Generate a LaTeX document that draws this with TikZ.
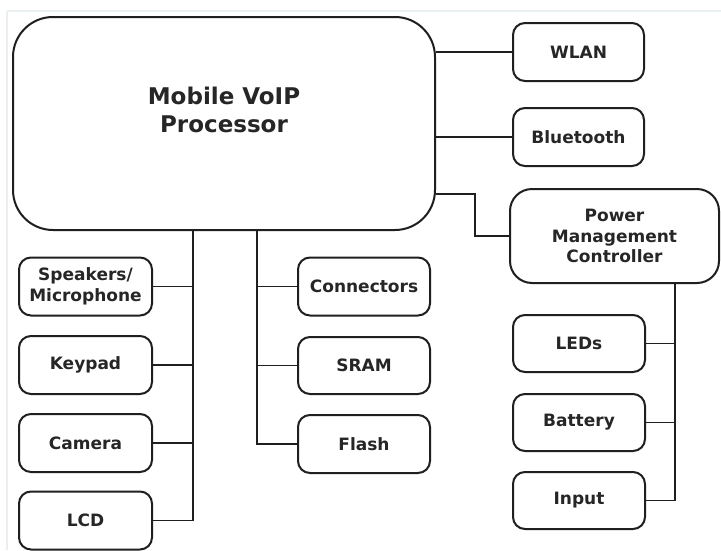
\documentclass[tikz,border=0pt]{standalone}
\usepackage{fontspec}
\setmainfont{DejaVu Sans}
\begin{document}
\begin{tikzpicture}[x=1pt,y=-1pt,
  box/.style={draw=black!88, line width=2pt, rounded corners=12pt, fill=white,
    text=black!85, align=center, inner sep=0pt,
    font=\fontsize{17}{20.5}\selectfont\bfseries},
  lbox/.style={box, minimum width=133pt, minimum height=58pt},
  rbox/.style={box, minimum width=132pt, minimum height=57pt},
  conn/.style={draw=black!88, line width=1.9pt},
  faint/.style={draw=cyan!25!gray!15, line width=1.5pt}]
\useasboundingbox (0,0) rectangle (721,550);
\fill[white] (0,0) rectangle (721,550);
\draw[faint] (7,11) -- (721,11);
\draw[faint] (7,11) -- (7,550);

% processor
\node[box, rounded corners=40pt, minimum width=422pt, minimum height=213pt] (proc) at (224,123.5) {};
\node[text=black!85, align=center, font=\fontsize{23}{28}\selectfont\bfseries] (proctxt) at (224,110) {Mobile VoIP\\Processor};

% right column
\node[rbox, minimum width=131pt, minimum height=58pt] (wlan) at (578.5,52) {WLAN};
\node[rbox, minimum width=131pt, minimum height=58pt] (bt) at (578.5,137) {Bluetooth};
\node[box, rounded corners=22pt, minimum width=209pt, minimum height=94pt] (pmc) at (614.5,236) {Power\\Management\\Controller};

\node[rbox] (leds) at (579,343.5) {LEDs};
\node[rbox] (bat) at (579,422.5) {Battery};
\node[rbox] (inp) at (579,500.5) {Input};

% left column
\node[lbox] (spk) at (85.5,286.5) {Speakers/\\Microphone};
\node[lbox] (key) at (85.5,365) {Keypad};
\node[lbox] (cam) at (85.5,443) {Camera};
\node[lbox] (lcd) at (85.5,520.5) {LCD};

% middle column
\node[rbox, minimum height=58pt] (conns) at (364,286.5) {Connectors};
\node[rbox] (sram) at (364,365.5) {SRAM};
\node[rbox, minimum height=58pt] (flash) at (364,444) {Flash};

% bus coordinates
\coordinate (lbus) at (193,0);
\coordinate (mbus) at (257,0);
\coordinate (pbus) at (675,0);
\coordinate (pjoin) at (475,194);

% connectors
\draw[conn] (proc.east |- wlan.west) -- (wlan.west);
\draw[conn] (proc.east |- bt.west) -- (bt.west);
\draw[conn] (proc.east |- pjoin) -- (pjoin) |- (pmc.west);

\draw[conn] (proc.south -| lbus) -- (lcd.east -| lbus) -- (lcd.east);
\draw[conn] (spk.east) -- (spk.east -| lbus);
\draw[conn] (key.east) -- (key.east -| lbus);
\draw[conn] (cam.east) -- (cam.east -| lbus);

\draw[conn] (proc.south -| mbus) -- (flash.west -| mbus) -- (flash.west);
\draw[conn] (conns.west) -- (conns.west -| mbus);
\draw[conn] (sram.west) -- (sram.west -| mbus);

\draw[conn] (pmc.south -| pbus) -- (inp.east -| pbus) -- (inp.east);
\draw[conn] (leds.east) -- (leds.east -| pbus);
\draw[conn] (bat.east) -- (bat.east -| pbus);
\end{tikzpicture}
\end{document}
